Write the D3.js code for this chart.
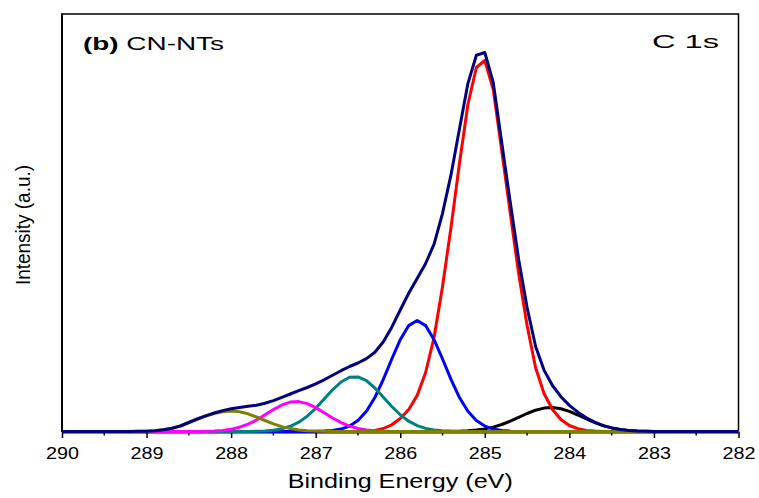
<!DOCTYPE html>
<html>
<head>
<meta charset="utf-8">
<script src="https://cdn.jsdelivr.net/npm/d3@7"></script>
<style>
  body { margin: 0; background: white; }
  svg { display: block; }
</style>
</head>
<body>
<div id="chart"></div>
<script>
"use strict";
var width = 759;
var height = 498;

// binding energy grid (eV), 0.1 step
var energies = [
    290.0, 289.9, 289.8, 289.7, 289.6, 289.5, 289.4, 289.3, 289.2, 289.1,
    289.0, 288.9, 288.8, 288.7, 288.6, 288.5, 288.4, 288.3, 288.2, 288.1,
    288.0, 287.9, 287.8, 287.7, 287.6, 287.5, 287.4, 287.3, 287.2, 287.1,
    287.0, 286.9, 286.8, 286.7, 286.6, 286.5, 286.4, 286.3, 286.2, 286.1,
    286.0, 285.9, 285.8, 285.7, 285.6, 285.5, 285.4, 285.3, 285.2, 285.1,
    285.0, 284.9, 284.8, 284.7, 284.6, 284.5, 284.4, 284.3, 284.2, 284.1,
    284.0, 283.9, 283.8, 283.7, 283.6, 283.5, 283.4, 283.3, 283.2, 283.1,
    283.0, 282.9, 282.8, 282.7, 282.6, 282.5, 282.4, 282.3, 282.2, 282.1,
    282.0
];

// fitted components (a.u.)
var peak288 = [
    0, 0, 0, 0, 0, 0, 0, 0, 0.05, 0.15,
    0.35, 0.8, 1.7, 3.2, 5.5, 9, 12.5, 15.5, 18, 19.8,
    20.5, 19.8, 17.7, 14.5, 11, 7.7, 4.9, 2.9, 1.6, 0.8,
    0.4, 0.16, 0.06, 0, 0, 0, 0, 0, 0, 0,
    0, 0, 0, 0, 0, 0, 0, 0, 0, 0,
    0, 0, 0, 0, 0, 0, 0, 0, 0, 0,
    0, 0, 0, 0, 0, 0, 0, 0, 0, 0,
    0, 0, 0, 0, 0, 0, 0, 0, 0, 0,
    0
];
var peak2872 = [
    0, 0, 0, 0, 0, 0, 0, 0, 0, 0,
    0, 0, 0, 0, 0, 0, 0, 0.2, 0.5, 1.1,
    2.3, 4.3, 7.4, 11.5, 16.6, 21.9, 26.5, 29.4, 29.9, 27.9,
    23.9, 18.7, 13.5, 8.9, 5.4, 3, 1.5, 0.7, 0.3, 0.1,
    0, 0, 0, 0, 0, 0, 0, 0, 0, 0,
    0, 0, 0, 0, 0, 0, 0, 0, 0, 0,
    0, 0, 0, 0, 0, 0, 0, 0, 0, 0,
    0, 0, 0, 0, 0, 0, 0, 0, 0, 0,
    0
];
var peak2865 = [
    0, 0, 0, 0, 0, 0, 0, 0, 0, 0,
    0, 0, 0, 0, 0, 0, 0, 0, 0, 0,
    0, 0, 0.1, 0.2, 0.6, 1.3, 2.7, 5.2, 9.3, 15.3,
    23.2, 32.4, 41.7, 49.5, 54.2, 54.6, 50.8, 43.5, 34.3, 25,
    16.7, 10.3, 5.9, 3.1, 1.5, 0.7, 0.3, 0.1, 0, 0,
    0, 0, 0, 0, 0, 0, 0, 0, 0, 0,
    0, 0, 0, 0, 0, 0, 0, 0, 0, 0,
    0, 0, 0, 0, 0, 0, 0, 0, 0, 0,
    0
];
var peak2858 = [
    0, 0, 0, 0, 0, 0, 0, 0, 0, 0,
    0, 0, 0, 0, 0, 0, 0, 0, 0, 0,
    0, 0, 0, 0, 0, 0, 0, 0, 0, 0,
    0.1, 0.4, 1, 2.4, 5.4, 10.9, 20.2, 34, 52.1, 72.5,
    91.8, 105.9, 111, 105.9, 91.8, 72.5, 52.1, 34, 20.2, 10.9,
    5.4, 2.4, 1, 0.4, 0.1, 0, 0, 0, 0, 0,
    0, 0, 0, 0, 0, 0, 0, 0, 0, 0,
    0, 0, 0, 0, 0, 0, 0, 0, 0, 0,
    0
];
var peak285 = [
    0, 0, 0, 0, 0, 0, 0, 0, 0, 0,
    0, 0, 0, 0, 0, 0, 0, 0, 0, 0,
    0, 0, 0, 0, 0, 0, 0, 0, 0, 0,
    0, 0, 0, 0, 0, 0, 0.4, 1.1, 3, 6.7,
    13, 22, 36, 59, 94, 145, 204, 268, 327, 364,
    371, 342, 281, 219, 158, 106, 64, 38, 22, 12,
    6, 2.8, 1.1, 0.4, 0, 0, 0, 0, 0, 0,
    0, 0, 0, 0, 0, 0, 0, 0, 0, 0,
    0
];
var peak2842 = [
    0, 0, 0, 0, 0, 0, 0, 0, 0, 0,
    0, 0, 0, 0, 0, 0, 0, 0, 0, 0,
    0, 0, 0, 0, 0, 0, 0, 0, 0, 0,
    0, 0, 0, 0, 0, 0, 0, 0, 0, 0,
    0, 0, 0, 0, 0, 0, 0.15, 0.34, 0.7, 1.4,
    2.6, 4.4, 7, 10.3, 14.2, 18, 21.3, 23.4, 24, 22.8,
    20.1, 16.5, 12.6, 8.9, 5.9, 3.6, 2.1, 1.1, 0.5, 0.25,
    0.1, 0, 0, 0, 0, 0, 0, 0, 0, 0,
    0
];
// cumulative fit
var envelope = [
    0, 0, 0, 0, 0, 0, 0, 0, 0.05, 0.15,
    0.35, 0.8, 1.7, 3.2, 5.5, 9, 12.5, 15.7, 18.5, 20.9,
    22.8, 24.1, 25.2, 26.2, 28.2, 30.9, 34.1, 37.5, 40.8, 44,
    47.6, 51.7, 56.3, 60.8, 65, 68.5, 72.9, 79.3, 89.7, 104.3,
    121.5, 138.2, 152.9, 168, 187.3, 218.2, 256.6, 302.4, 347.9, 376.3,
    379, 348.8, 289, 229.7, 172.3, 124, 85.3, 61.4, 46, 34.8,
    26.1, 19.3, 13.7, 9.3, 5.9, 3.6, 2.1, 1.1, 0.5, 0.25,
    0.1, 0, 0, 0, 0, 0, 0, 0, 0, 0,
    0
];

var xTicks = [290, 289, 288, 287, 286, 285, 284, 283, 282];
var xMinorTicks = [289.5, 288.5, 287.5, 286.5, 285.5, 284.5, 283.5, 282.5];

// draw order matters: later lines sit on top at the baseline
var series = [
    { values: peak2842, color: '#000000' },
    { values: peak285, color: '#FF0000' },
    { values: peak2858, color: '#0000FF' },
    { values: peak2865, color: '#008080' },
    { values: peak2872, color: '#FF00FF' },
    { values: peak288, color: '#808000' },
    { values: envelope, color: '#000080' }
];

var margin = { left: 62, right: 20.5, top: 14, bottom: 66 };
var x = d3.scaleLinear()
    .domain([290, 282])
    .range([margin.left, width - margin.right]);
var y = d3.scaleLinear()
    .domain([0, 417.5])
    .range([height - margin.bottom - 0.5, margin.top]);

var svg = d3.select('#chart')
    .append('svg')
    .attr('width', width)
    .attr('height', height)
    .style('font-family', '"Liberation Sans", Arial, sans-serif');

svg.append('rect')
    .attr('width', width)
    .attr('height', height)
    .attr('fill', 'white');

var x0 = x.range()[0], x1 = x.range()[1];
var yb = height - margin.bottom, yt = margin.top;

// frame: top and right thin
svg.append('path')
    .attr('d', 'M' + x0 + ',' + yt + 'H' + x1 + 'V' + yb)
    .attr('fill', 'none')
    .attr('stroke', 'black')
    .attr('stroke-width', 1.5);
svg.append('line')
    .attr('x1', x0).attr('x2', x0)
    .attr('y1', yt - 0.75).attr('y2', yb)
    .attr('stroke', 'black')
    .attr('stroke-width', 2);

// bottom axis
var axis = svg.append('g')
    .attr('transform', 'translate(0,' + yb + ')')
    .call(d3.axisBottom(x)
        .tickValues(xTicks)
        .tickFormat(d3.format('d'))
        .tickSize(6)
        .tickSizeOuter(0));
axis.select('.domain')
    .attr('stroke-width', 2);
axis.selectAll('.tick line')
    .attr('stroke-width', 1.5);
axis.selectAll('.tick text')
    .attr('y', 15)
    .attr('font-size', 17)
    .attr('font-family', '"Liberation Sans", Arial, sans-serif')
    .attr('fill', 'black')
    .attr('textLength', 33)
    .attr('lengthAdjust', 'spacingAndGlyphs');

svg.append('g')
    .selectAll('line')
    .data(xMinorTicks)
    .enter()
    .append('line')
    .attr('x1', function (d) { return x(d); })
    .attr('x2', function (d) { return x(d); })
    .attr('y1', yb)
    .attr('y2', yb + 3.5)
    .attr('stroke', 'black')
    .attr('stroke-width', 1.5);

// curves
svg.append('clipPath')
    .attr('id', 'plot-clip')
    .append('rect')
    .attr('x', x0)
    .attr('y', yt)
    .attr('width', x1 - x0)
    .attr('height', yb - yt + 2);

var line = d3.line()
    .x(function (d, i) { return x(energies[i]); })
    .y(function (d) { return y(d); });

svg.append('g')
    .attr('clip-path', 'url(#plot-clip)')
    .selectAll('path')
    .data(series)
    .enter()
    .append('path')
    .attr('d', function (s) { return line(s.values); })
    .attr('fill', 'none')
    .attr('stroke', function (s) { return s.color; })
    .attr('stroke-width', 3)
    .attr('stroke-linejoin', 'round');

// titles
svg.append('text')
    .attr('x', (x0 + x1) / 2)
    .attr('y', 488)
    .attr('text-anchor', 'middle')
    .attr('font-size', 20)
    .attr('textLength', 225)
    .attr('lengthAdjust', 'spacingAndGlyphs')
    .text('Binding Energy (eV)');

svg.append('text')
    .attr('transform', 'translate(30,225) rotate(-90)')
    .attr('text-anchor', 'middle')
    .attr('font-size', 20)
    .attr('textLength', 120)
    .attr('lengthAdjust', 'spacingAndGlyphs')
    .text('Intensity (a.u.)');

var label = svg.append('text')
    .attr('x', 83)
    .attr('y', 50)
    .attr('font-size', 18)
    .attr('textLength', 141)
    .attr('lengthAdjust', 'spacingAndGlyphs');
label.append('tspan')
    .attr('font-weight', 'bold')
    .text('(b)');
label.append('tspan')
    .text(' CN-NTs');

svg.append('text')
    .attr('x', 719)
    .attr('y', 48)
    .attr('text-anchor', 'end')
    .attr('font-size', 19)
    .attr('textLength', 67)
    .attr('lengthAdjust', 'spacingAndGlyphs')
    .text('C 1s');
</script>
</body>
</html>
